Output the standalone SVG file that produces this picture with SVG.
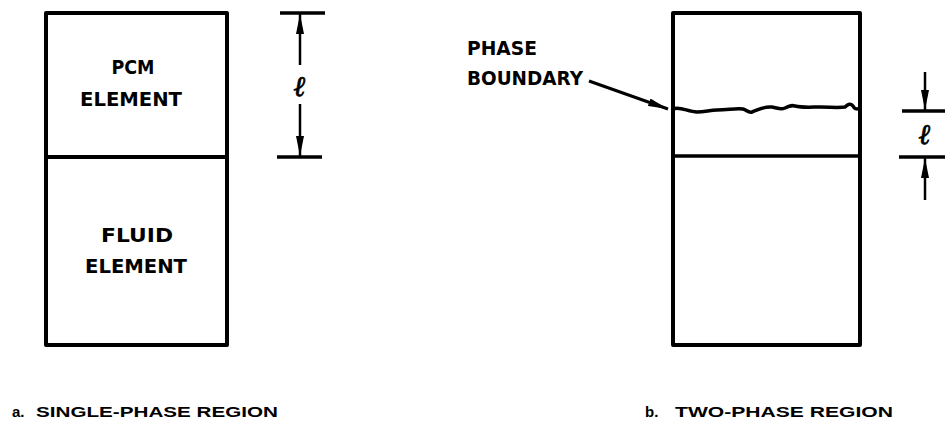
<svg xmlns="http://www.w3.org/2000/svg" width="945" height="421" viewBox="0 0 945 421">
<style>
.box{fill:none;stroke:#000;stroke-width:4;stroke-linejoin:round}
.ln{fill:none;stroke:#000;stroke-width:3.5}
.dim{fill:none;stroke:#000;stroke-width:2.5}
.lbl{font-family:"DejaVu Sans",sans-serif;font-weight:bold;font-size:20px;fill:#000;text-anchor:middle}
.lbl2{font-family:"DejaVu Sans",sans-serif;font-weight:bold;font-size:20px;fill:#000}
.cap{font-family:"Liberation Sans",Arial,sans-serif;font-weight:bold;font-size:15px;fill:#000}
.ell{font-family:"DejaVu Serif",serif;font-style:italic;font-weight:bold;font-size:28px;fill:#000;text-anchor:middle;stroke:#000;stroke-width:0.8}
.ah{fill:#000}
</style>
<defs>
<marker id="arr" viewBox="0 0 20 8" refX="20" refY="4" markerWidth="20" markerHeight="8" markerUnits="userSpaceOnUse" orient="auto">
<path d="M0,0 L20,4 L0,8 Z" class="ah"/>
</marker>
</defs>
<rect width="945" height="421" fill="#fff"/>

<g id="pcm-element">
<rect class="box" x="46" y="13" width="181" height="144"/>
<text class="lbl" x="133" y="74" textLength="43" lengthAdjust="spacingAndGlyphs">PCM</text>
<text class="lbl" x="131" y="106" textLength="102" lengthAdjust="spacingAndGlyphs">ELEMENT</text>
</g>
<g id="fluid-element">
<rect class="box" x="46" y="157" width="181" height="188"/>
<text class="lbl" x="137" y="242" textLength="72" lengthAdjust="spacingAndGlyphs">FLUID</text>
<text class="lbl" x="136" y="273" textLength="102" lengthAdjust="spacingAndGlyphs">ELEMENT</text>
</g>

<g id="two-phase-box">
<rect class="box" x="673" y="13" width="187" height="332"/>
<line class="ln" x1="673" y1="156" x2="860" y2="156"/>
<path class="ln" d="M673,109 C680,106 688,112 697,112 C705,112 710,110 717,110 C728,110 736,108 743,109 C747,110 748,113 752,112 C758,110 764,106 772,107 C778,108 780,110 785,108 C789,106 791,105 795,106 C803,108 812,107 820,107 C830,107 838,108 845,107 C848,104 851,103 853,106 C855,110 858,109 860,108"/>
</g>

<g id="phase-boundary-label">
<text class="lbl2" x="467" y="55" textLength="70" lengthAdjust="spacingAndGlyphs">PHASE</text>
<text class="lbl2" x="467" y="85" textLength="116" lengthAdjust="spacingAndGlyphs">BOUNDARY</text>
</g>

<g id="dimension-a">
<line class="ln" x1="280" y1="13" x2="325" y2="13"/>
<line class="ln" x1="277" y1="157" x2="322" y2="157"/>
<text class="ell" x="300" y="96">ℓ</text>
</g>

<g id="dimension-b">
<line class="ln" x1="902" y1="111" x2="945" y2="111"/>
<line class="ln" x1="899" y1="157" x2="945" y2="157"/>
<text class="ell" x="925" y="144">ℓ</text>
</g>

<g id="connectors">
<line class="dim" x1="300" y1="65" x2="300" y2="14" marker-end="url(#arr)"/>
<line class="dim" x1="300" y1="104" x2="300" y2="156" marker-end="url(#arr)"/>
<line class="dim" x1="925" y1="72" x2="925" y2="110" marker-end="url(#arr)"/>
<line class="dim" x1="925" y1="200" x2="925" y2="158" marker-end="url(#arr)"/>
<line class="dim" x1="589" y1="81" x2="668" y2="109" style="stroke-width:3" marker-end="url(#arr)"/>
</g>

<g id="captions">
<text class="cap" x="12" y="417">a.</text>
<text class="cap" x="36" y="417" textLength="242" lengthAdjust="spacingAndGlyphs">SINGLE-PHASE REGION</text>
<text class="cap" x="645" y="417">b.</text>
<text class="cap" x="675" y="417" textLength="218" lengthAdjust="spacingAndGlyphs">TWO-PHASE REGION</text>
</g>
</svg>
